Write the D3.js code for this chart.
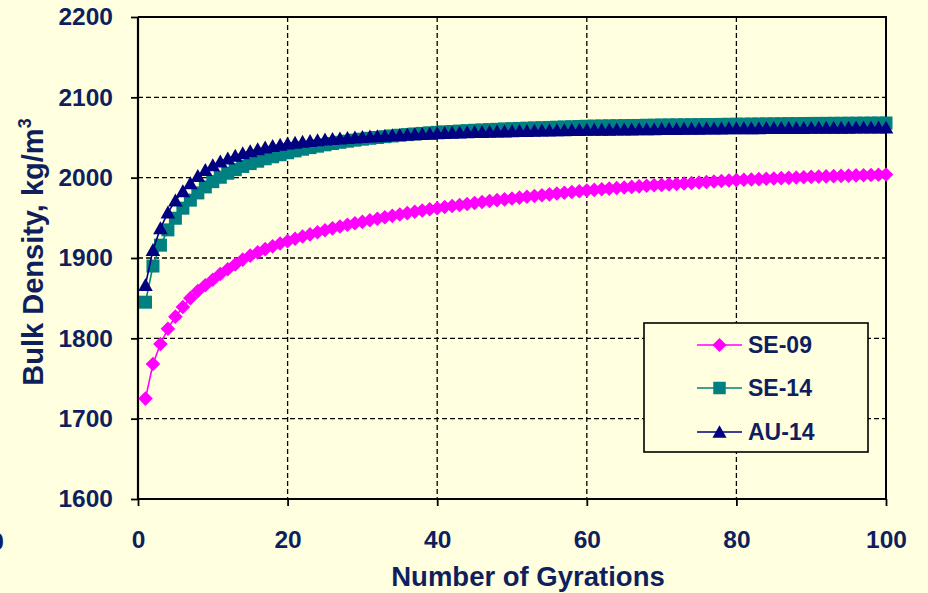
<!DOCTYPE html>
<html>
<head>
<meta charset="utf-8">
<script src="https://cdn.jsdelivr.net/npm/d3@7"></script>
<style>
  html, body { margin: 0; padding: 0; background: #fefeee; }
  svg { display: block; }
  text { font-family: "Liberation Sans", Arial, sans-serif; font-weight: bold; fill: #0f1f5e; }
</style>
</head>
<body>
<script>
// ---------------- data ----------------
const gyrations = d3.range(1, 101);

const seriesNames = ["SE-09", "SE-14", "AU-14"];

const se09 = [1725,1768,1793,1812,1827,1839,1850,1859,1866,1873,
1880,1886,1892,1898,1903,1907,1911,1914.5,1918,1921,
1923.9,1926.7,1929.4,1932,1934.5,1936.9,1939.2,1941.3,1943.2,1945,
1947,1948.9,1950.7,1952.5,1954.2,1955.9,1957.5,1959.1,1960.6,1962,
1963.4,1964.7,1966,1967.3,1968.5,1969.7,1970.9,1972,1973,1974,
1975.1,1976.2,1977.2,1978.2,1979.2,1980.2,1981.2,1982.1,1983,1984,
1984.8,1985.6,1986.4,1987.1,1987.8,1988.5,1989.2,1989.9,1990.5,1991,
1991.6,1992.2,1992.8,1993.4,1994,1994.6,1995.2,1995.8,1996.4,1997,
1997.4,1997.8,1998.2,1998.6,1999,1999.4,1999.8,2000.2,2000.6,2001,
2001.3,2001.6,2001.9,2002.2,2002.5,2002.8,2003.1,2003.4,2003.7,2004];

const se14 = [1845,1890,1916,1935,1949.5,1962,1972,1981,1988.5,1995,
2000.5,2005.5,2010,2014,2017.5,2020.5,2023.5,2026,2028.5,2031,
2033.3,2035.4,2037.4,2039.2,2040.9,2042.5,2044,2045.4,2046.7,2047.9,
2049,2050,2051,2051.9,2052.8,2053.6,2054.4,2055.1,2055.8,2056.4,
2057,2057.5,2058,2058.5,2059,2059.4,2059.8,2060.2,2060.6,2061,
2061.3,2061.6,2061.9,2062.2,2062.5,2062.8,2063.1,2063.4,2063.7,2064,
2064.2,2064.3,2064.5,2064.6,2064.8,2064.9,2065,2065.2,2065.3,2065.5,
2065.6,2065.7,2065.8,2065.9,2066,2066.1,2066.2,2066.3,2066.4,2066.5,
2066.6,2066.7,2066.8,2066.9,2067,2067.1,2067.2,2067.3,2067.4,2067.5,
2067.55,2067.6,2067.65,2067.7,2067.75,2067.8,2067.85,2067.9,2067.95,2068];

const au14 = [1866.5,1910,1937,1956.5,1971.5,1983,1993,2002,2009.5,2015.5,
2020,2024,2027.3,2030.3,2033,2035.4,2037.5,2039.4,2041,2042.4,
2043.6,2044.7,2045.7,2046.6,2047.4,2048.1,2048.8,2049.5,2050.1,2050.7,
2051.2,2051.7,2052.2,2052.7,2053.2,2053.6,2054,2054.4,2054.8,2055.2,
2055.5,2055.8,2056.1,2056.4,2056.7,2057,2057.2,2057.4,2057.6,2057.8,
2058,2058.2,2058.4,2058.6,2058.8,2059,2059.1,2059.2,2059.3,2059.5,
2059.6,2059.7,2059.8,2059.9,2060,2060.1,2060.2,2060.3,2060.4,2060.5,
2060.6,2060.7,2060.8,2060.9,2061,2061.1,2061.2,2061.3,2061.4,2061.5,
2061.55,2061.6,2061.65,2061.7,2061.75,2061.8,2061.85,2061.9,2061.95,2062,
2062.05,2062.1,2062.15,2062.2,2062.25,2062.3,2062.35,2062.4,2062.45,2062.5];

const xTicks = [0, 20, 40, 60, 80, 100];
const yTicks = [1600, 1700, 1800, 1900, 2000, 2100, 2200];

// ---------------- layout ----------------
const W = 928, H = 593;
const plot = { left: 138, right: 886, top: 17, bottom: 499 };
const colors = ["#ff00ff", "#008080", "#000080"];
const shapes = ["diamond", "square", "triangle"];
const values = [se09, se14, au14];

const x = d3.scaleLinear().domain([0, 100]).range([plot.left, plot.right]);
const y = d3.scaleLinear().domain([1600, 2200]).range([plot.bottom, plot.top]);

const svg = d3.select("body").append("svg").attr("width", W).attr("height", H);

// background dither pattern
const defs = svg.append("defs");
const pat = defs.append("pattern").attr("id", "bg").attr("width", 2).attr("height", 2)
  .attr("patternUnits", "userSpaceOnUse");
pat.append("rect").attr("width", 2).attr("height", 2).attr("fill", "#ffffff");
pat.append("rect").attr("width", 1).attr("height", 1).attr("fill", "#fcfcdc");
pat.append("rect").attr("x", 1).attr("y", 1).attr("width", 1).attr("height", 1).attr("fill", "#fcfcdc");
svg.append("rect").attr("width", W).attr("height", H).attr("fill", "url(#bg)");

// marker path
function marker(shape, s) {
  const h = s / 2;
  if (shape === "diamond") return `M0,${-h-0.8}L${h+0.8},0L0,${h+0.8}L${-h-0.8},0Z`;
  if (shape === "square") return `M${-h},${-h}H${h}V${h}H${-h}Z`;
  return `M0,${-h-0.5}L${h+0.8},${h-0.5}L${-h-0.8},${h-0.5}Z`;
}

// gridlines
const grid = svg.append("g").attr("stroke", "#000").attr("stroke-width", 1.3)
  .attr("stroke-dasharray", "5,3").attr("fill", "none");
grid.selectAll("line.h").data(yTicks.slice(1, -1)).join("line")
  .attr("x1", plot.left).attr("x2", plot.right)
  .attr("y1", d => y(d)).attr("y2", d => y(d));
grid.selectAll("line.v").data(xTicks.slice(1, -1)).join("line")
  .attr("y1", plot.top).attr("y2", plot.bottom)
  .attr("x1", d => x(d)).attr("x2", d => x(d));

// frame (top & right)
svg.append("path").attr("fill", "none").attr("stroke", "#000").attr("stroke-width", 2)
  .attr("d", `M${plot.left},${plot.top}H${plot.right}V${plot.bottom}`);

// axes
const yAxis = d3.axisLeft(y).tickValues(yTicks).tickSize(7).tickPadding(18).tickFormat(d3.format("d"));
const xAxis = d3.axisBottom(x).tickValues(xTicks).tickSize(7).tickPadding(25).tickFormat(d3.format("d"));

const gy = svg.append("g").attr("transform", `translate(${plot.left},0)`).call(yAxis);
const gx = svg.append("g").attr("transform", `translate(0,${plot.bottom})`).call(xAxis);
[gx, gy].forEach(g => {
  g.select(".domain").attr("stroke", "#000").attr("stroke-width", 2.2);
  g.selectAll(".tick line").attr("stroke", "#000").attr("stroke-width", 1.8);
  g.selectAll(".tick text").attr("font-size", 24.5).attr("font-family", "Liberation Sans, Arial, sans-serif")
    .attr("font-weight", "bold").attr("fill", "#0f1f5e");
});
gy.select(".domain").attr("d", `M0,${plot.bottom}V${plot.top}`);
gx.select(".domain").attr("d", `M${plot.left},0H${plot.right}`);

// stray clipped label at the far left (as in the reference)
svg.append("text").attr("x", 4).attr("y", 550).attr("text-anchor", "end")
  .attr("font-size", 24.5).text("0");

// series
values.forEach((vals, i) => {
  const pts = gyrations.map((g, j) => [g, vals[j]]);
  const g = svg.append("g");
  g.append("path").datum(pts).attr("fill", "none").attr("stroke", colors[i]).attr("stroke-width", 1.6)
    .attr("d", d3.line().x(d => x(d[0])).y(d => y(d[1])));
  g.selectAll("path.m").data(pts).join("path").attr("class", "m")
    .attr("transform", d => `translate(${x(d[0])},${y(d[1])})`)
    .attr("d", marker(shapes[i], 13)).attr("fill", colors[i]);
});

// axis titles
svg.append("text").attr("x", 528).attr("y", 586).attr("text-anchor", "middle")
  .attr("font-size", 27.5).text("Number of Gyrations");
const yt = svg.append("text").attr("transform", "translate(43,252) rotate(-90)")
  .attr("text-anchor", "middle").attr("font-size", 29);
yt.append("tspan").text("Bulk Density, kg/m");
yt.append("tspan").attr("font-size", 18).attr("dy", -12).text("3");

// legend
const lg = svg.append("g");
lg.append("rect").attr("x", 644).attr("y", 323).attr("width", 224).attr("height", 129)
  .attr("fill", "url(#bg)").attr("stroke", "#000").attr("stroke-width", 1.6);
const rows = [345, 388, 432];
seriesNames.forEach((name, i) => {
  lg.append("line").attr("x1", 697).attr("x2", 742).attr("y1", rows[i]).attr("y2", rows[i])
    .attr("stroke", colors[i]).attr("stroke-width", 1.6);
  lg.append("path").attr("transform", `translate(719.5,${rows[i]})`)
    .attr("d", marker(shapes[i], 12.5)).attr("fill", colors[i]);
  lg.append("text").attr("x", 748).attr("y", rows[i]).attr("dy", "0.36em")
    .attr("font-size", 23).text(name);
});
</script>
</body>
</html>
